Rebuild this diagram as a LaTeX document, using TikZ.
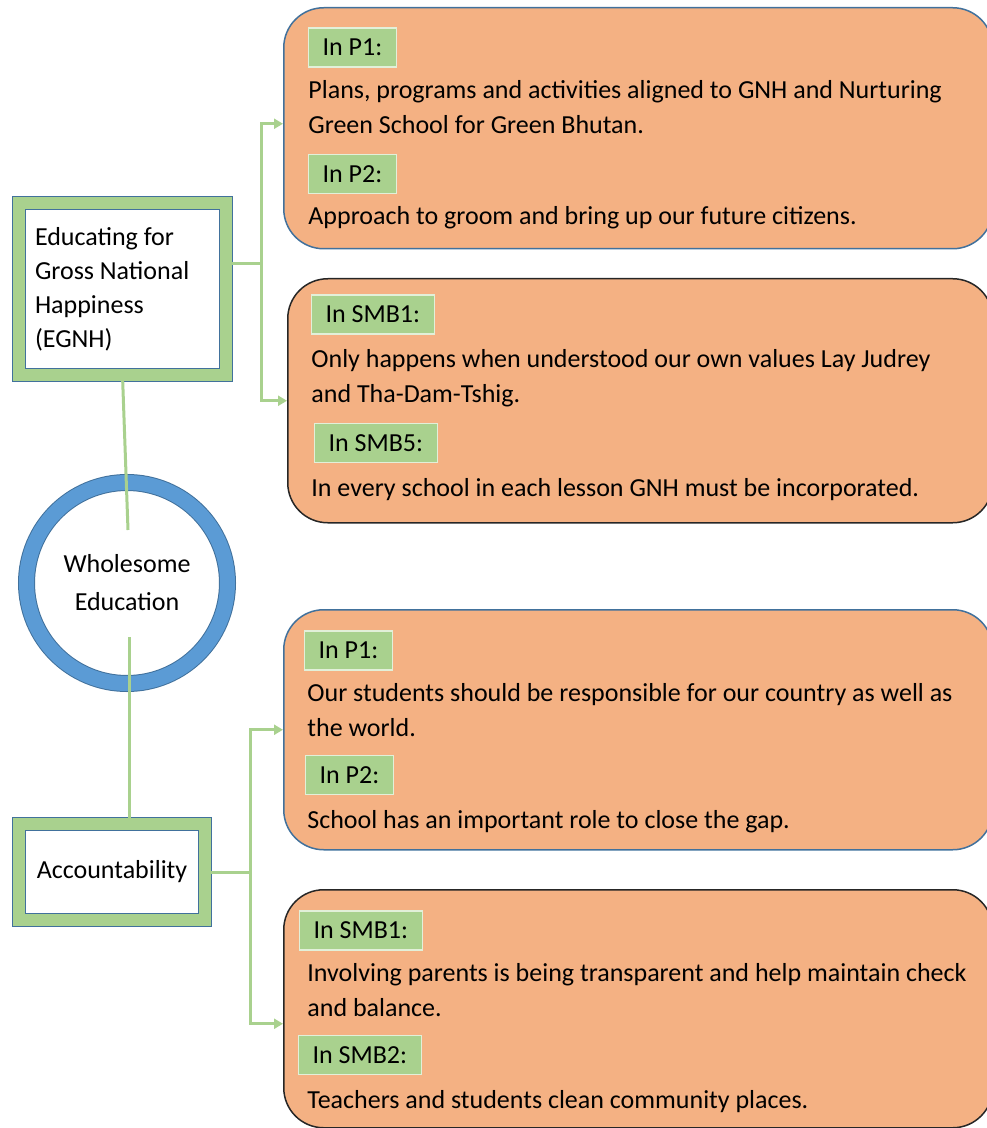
\documentclass[tikz,border=0pt]{standalone}
\usepackage{fontspec}
\setmainfont{Carlito}
\usetikzlibrary{arrows.meta, calc, positioning}

\definecolor{peach}{HTML}{F4B183}
\definecolor{leaf}{HTML}{A9D18E}
\definecolor{leafedge}{HTML}{E2F0D9}
\definecolor{steel}{HTML}{41719C}
\definecolor{ringblue}{HTML}{5B9BD5}
\definecolor{inkline}{HTML}{262626}

\tikzset{
  boxframe/.style={rectangle, draw=steel, line width=0.5pt, double=leaf, double distance=6pt, fill=white},
  bubble/.style={rectangle, rounded corners=20pt, fill=peach, line width=0.75pt, anchor=north west, inner sep=0pt},
  labelbox/.style={rectangle, fill=leaf, draw=leafedge, line width=0.6pt, anchor=west, minimum height=19.5pt, inner xsep=7pt, font=\fontsize{13}{15}\selectfont},
  bodytext/.style={anchor=west, align=left, inner sep=0pt, font=\fontsize{13}{17.5}\selectfont},
  connector/.style={leaf, line width=1.5pt},
  arrowed/.style={-{Triangle[length=4.5pt,width=5pt]}}
}

\begin{document}
\begin{tikzpicture}[x=0.5pt, y=-0.5pt]
  \useasboundingbox (0,0) rectangle (986,1128);

  % Left column
  \node[boxframe, minimum width=103.5pt, minimum height=86pt, text width=87.5pt, align=flush left, font=\fontsize{13}{17}\selectfont] (egnh) at (122.5,289) {Educating for\\Gross National\\Happiness\\(EGNH)};
  \node[circle, draw=steel, line width=0.5pt, double=ringblue, double distance=7.5pt, fill=white, minimum size=100.5pt, inner sep=0pt, align=center, font=\fontsize{13}{19}\selectfont] (whole) at (127,583) {Wholesome\\Education};
  \node[boxframe, minimum width=93pt, minimum height=48pt, font=\fontsize{13}{15}\selectfont] (acc) at (112,872) {Accountability};

  % Orange boxes
  \node[bubble, draw=steel, minimum width=354.5pt, minimum height=120.5pt] (pa) at (283,7) {};
  \node[bubble, draw=inkline, minimum width=352.5pt, minimum height=122pt] (pb) at (287,278) {};
  \node[bubble, draw=steel, minimum width=354.5pt, minimum height=120pt] (pc) at (283,609) {};
  \node[bubble, draw=inkline, minimum width=354.5pt, minimum height=119pt] (pd) at (283,889) {};

  % Box texts
  \node[labelbox] (pa1) at (308,47.5) {In P1:};
  \node[bodytext] (pa1t) at (308,107.5) {Plans, programs and activities aligned to GNH and Nurturing\\Green School for Green Bhutan.};
  \node[labelbox] (pa2) at (308,174) {In P2:};
  \node[bodytext] (pa2t) at (308,218) {Approach to groom and bring up our future citizens.};

  \node[labelbox] (pb1) at (311,314.5) {In SMB1:};
  \node[bodytext] (pb1t) at (311,378) {Only happens when understood our own values Lay Judrey\\and Tha-Dam-Tshig.};
  \node[labelbox] (pb2) at (314,443) {In SMB5:};
  \node[bodytext] (pb2t) at (311,490) {In every school in each lesson GNH must be incorporated.};

  \node[labelbox] (pc1) at (304,650.5) {In P1:};
  \node[bodytext] (pc1t) at (307,710) {Our students should be responsible for our country as well as\\the world.};
  \node[labelbox] (pc2) at (305,775) {In P2:};
  \node[bodytext] (pc2t) at (307,822) {School has an important role to close the gap.};

  \node[labelbox] (pd1) at (299,930.5) {In SMB1:};
  \node[bodytext] (pd1t) at (307,990) {Involving parents is being transparent and help maintain check\\and balance.};
  \node[labelbox] (pd2) at (298,1055) {In SMB2:};
  \node[bodytext] (pd2t) at (307,1102) {Teachers and students clean community places.};

  % Connectors
  \coordinate (ja) at (261,264);
  \coordinate (jb) at (250,872);
  \coordinate (wtop) at (128,530);
  \coordinate (wbot) at (129,637);
  \draw[connector] (egnh.east |- ja) -- (ja);
  \draw[connector, arrowed] (ja) |- ([yshift=2.25pt]pa.west);
  \draw[connector, arrowed] (ja) |- (pb.west);
  \draw[connector] (egnh.south) -- (wtop);
  \draw[connector] (wbot) -- (wbot |- acc.north);
  \draw[connector] (acc.east) -- (jb);
  \draw[connector, arrowed] (jb) |- (pc.west);
  \draw[connector, arrowed] (jb) |- ([yshift=-7.5pt]pd.west);
\end{tikzpicture}
\end{document}
